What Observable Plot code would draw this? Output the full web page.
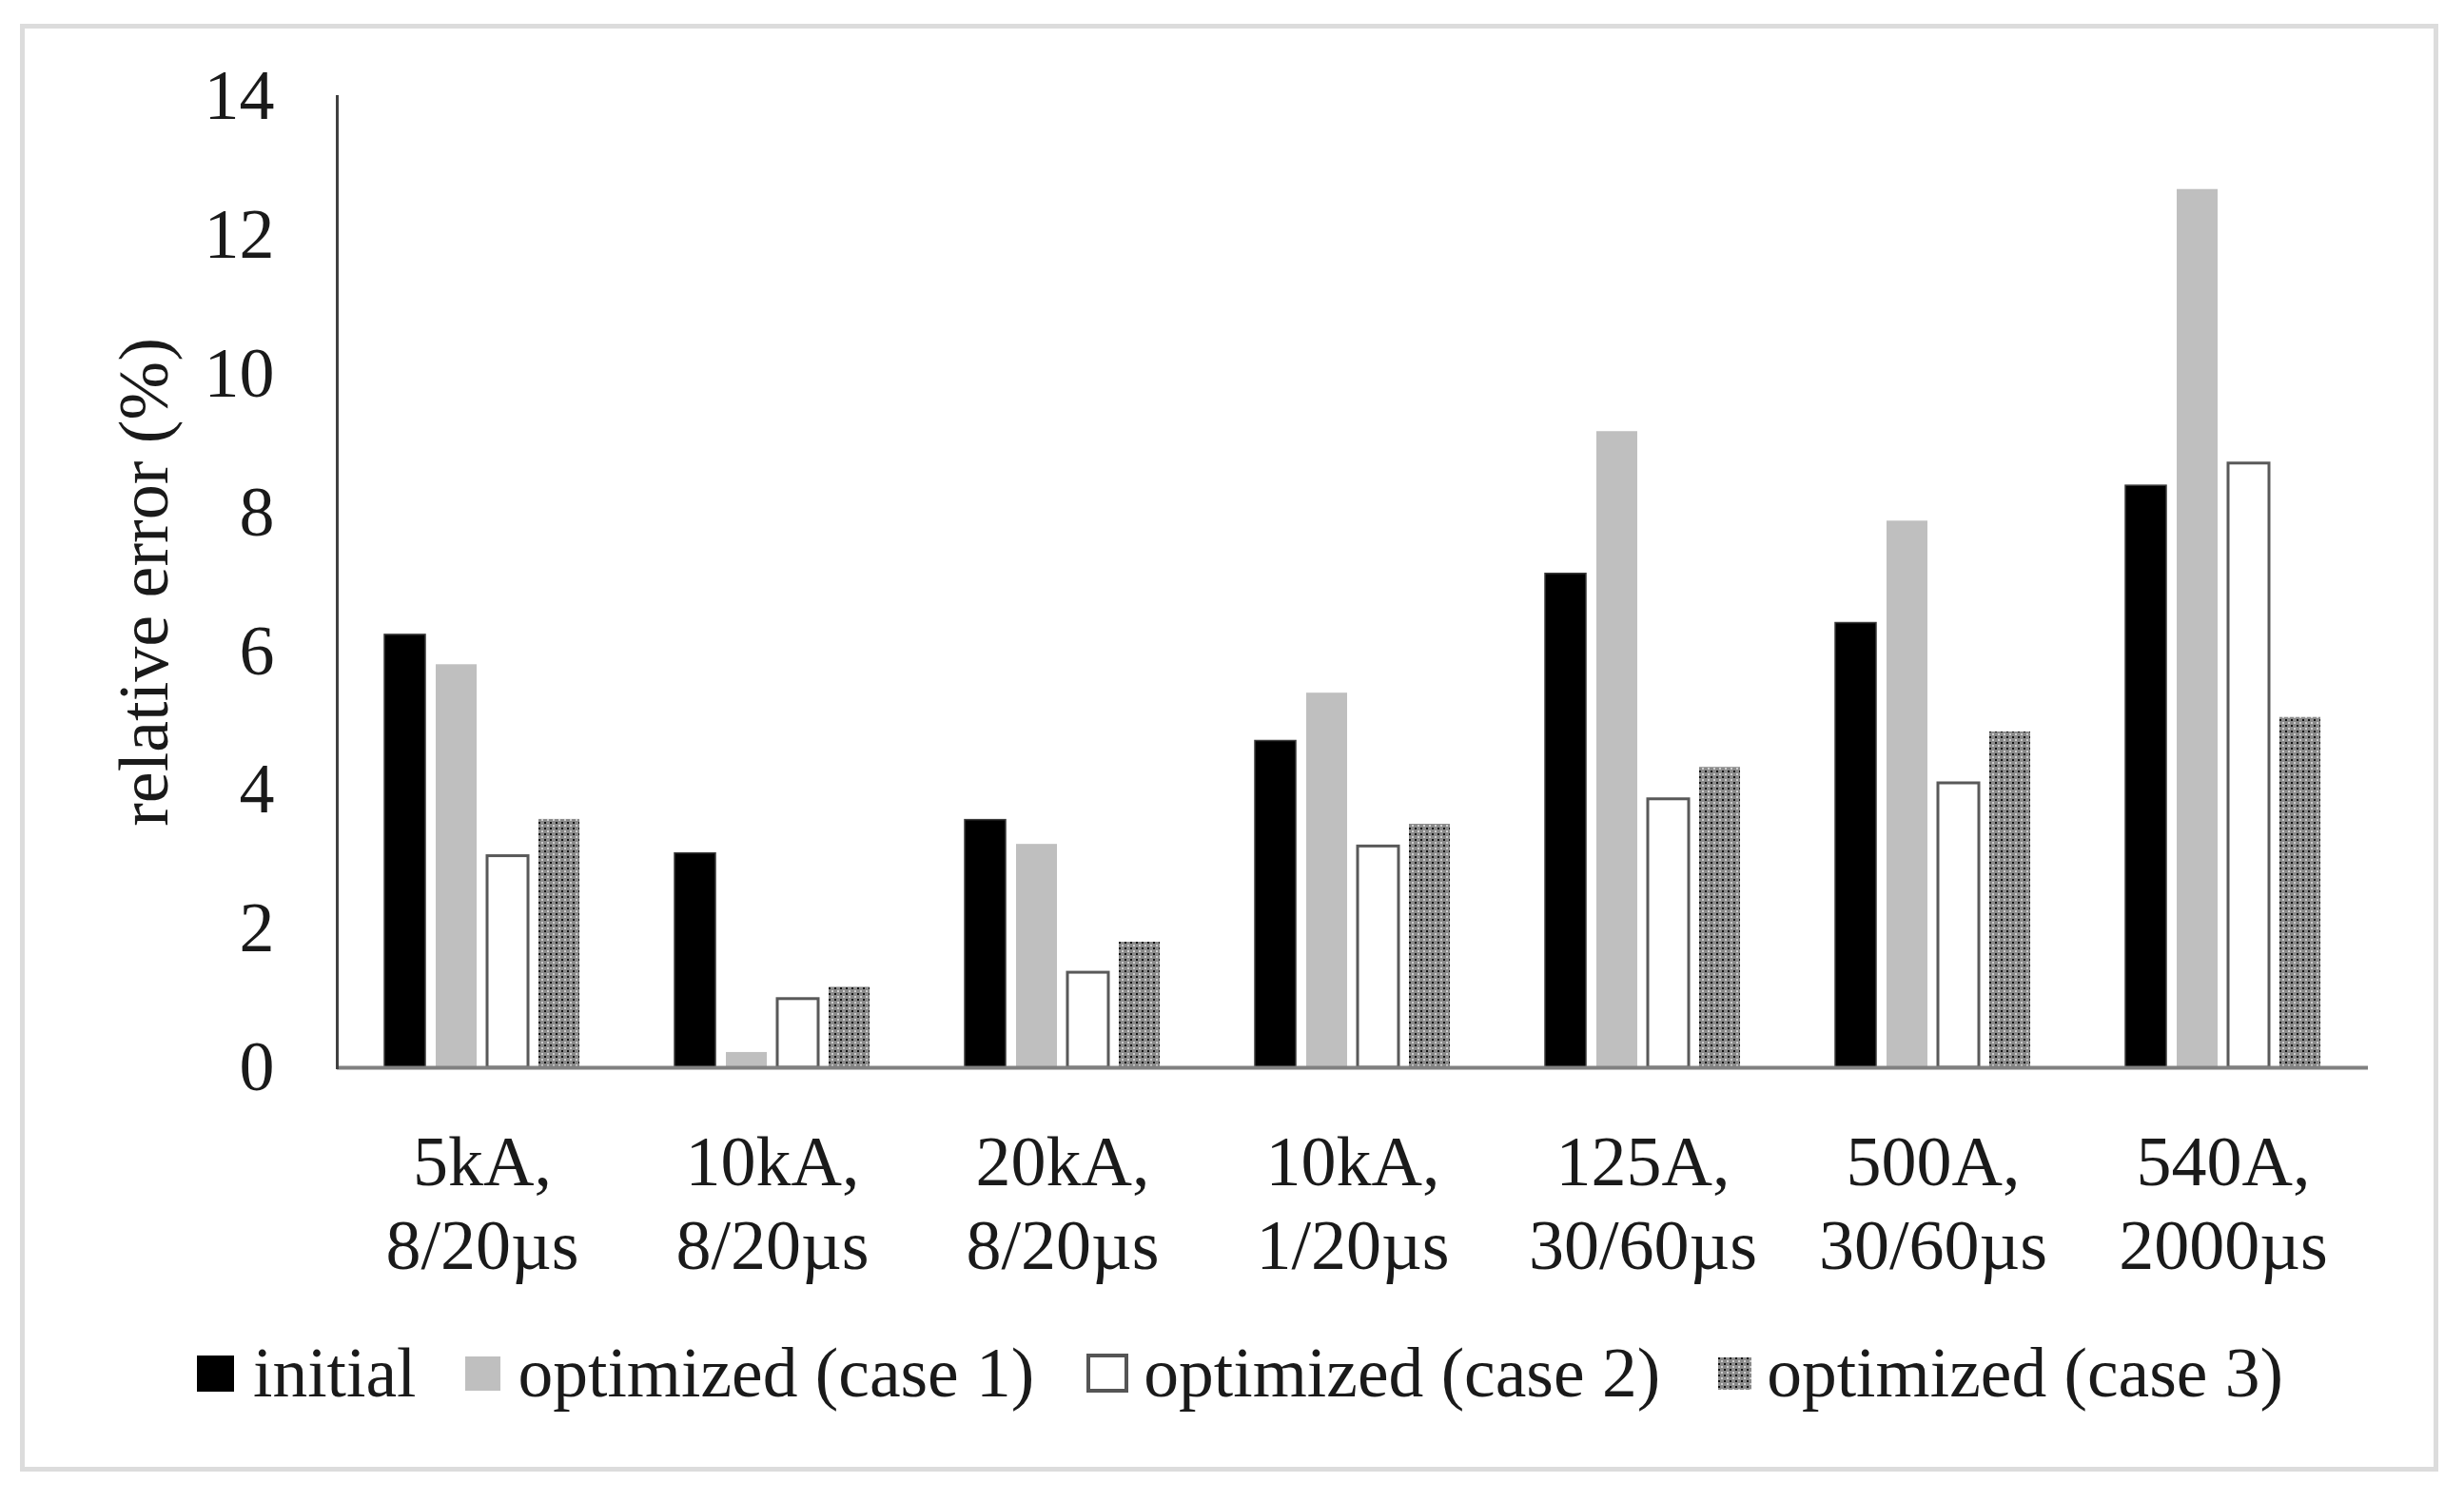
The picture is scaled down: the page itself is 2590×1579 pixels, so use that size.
<!DOCTYPE html>
<html>
<head>
<meta charset="utf-8">
<script src="https://cdn.jsdelivr.net/npm/d3@7"></script>
<script src="https://cdn.jsdelivr.net/npm/@observablehq/plot@0.6"></script>
<style>
  html, body { margin: 0; padding: 0; background: #fff; }
  #wrap { position: relative; width: 2590px; height: 1579px; font-family: "Liberation Serif", "Times New Roman", serif; color: #1a1a1a; overflow: hidden; }
  #border { position: absolute; left: 21px; top: 25px; width: 2542px; height: 1522px; box-sizing: border-box; border: 5px solid #dcdcdc; pointer-events: none; }
  #chart { position: absolute; left: 0; top: 0; }
  #legend { position: absolute; left: 207px; top: 1407px; display: flex; align-items: center; font-size: 73.5px; line-height: 1; white-space: nowrap; }
  #legend .item { display: flex; align-items: center; }
  #legend .swatch { display: block; box-sizing: border-box; }
</style>
</head>
<body>
<div id="wrap">
  <div id="chart"></div>
  <div id="legend"></div>
  <div id="border"></div>
</div>
<script>
// ---- data ----
const categories = [
  "5kA,\n8/20µs",
  "10kA,\n8/20µs",
  "20kA,\n8/20µs",
  "10kA,\n1/20µs",
  "125A,\n30/60µs",
  "500A,\n30/60µs",
  "540A,\n2000µs"
];
const series = ["initial", "optimized (case 1)", "optimized (case 2)", "optimized (case 3)"];
const initial = [6.24, 3.09, 3.57, 4.71, 7.12, 6.41, 8.39];
const case1   = [5.81, 0.22, 3.22, 5.40, 9.17, 7.88, 12.66];
const case2   = [3.05, 0.99, 1.37, 3.19, 3.87, 4.10, 8.71];
const case3   = [3.58, 1.16, 1.81, 3.51, 4.33, 4.84, 5.05];
const yTicks  = [0, 2, 4, 6, 8, 10, 12, 14];
const yLabel  = "relative error (%)";

// ---- build table ----
const valuesBySeries = [initial, case1, case2, case3];
const table = [];
series.forEach((s, i) => categories.forEach((c, j) => table.push({category: c, series: s, value: valuesBySeries[i][j]})));

// ---- styles ----
const looks = {
  "initial": {fill: "#000", stroke: "#3a3a3a", strokeWidth: 1.5},
  "optimized (case 1)": {fill: "#bfbfbf"},
  "optimized (case 2)": {fill: "#fff", stroke: "#595959", strokeWidth: 3},
  "optimized (case 3)": {fill: "url(#chk)"}
};
const fontFamily = '"Liberation Serif", "Times New Roman", serif';

const svg = Plot.plot({
  width: 2590,
  height: 1380,
  marginTop: 101,
  marginLeft: 352,
  marginRight: 100,
  marginBottom: 258,
  style: {fontFamily, fontSize: "74px", color: "#1a1a1a", background: "transparent", overflow: "visible"},
  fx: {domain: categories, paddingInner: 0, paddingOuter: 0},
  x: {domain: series, paddingInner: 0.2, paddingOuter: 0.88, axis: null},
  y: {domain: [0, 14]},
  marks: [
    ...series.map(s => Plot.barY(table.filter(d => d.series === s), {fx: "category", x: "series", y: "value", ...looks[s]})),
    Plot.ruleY([0], {stroke: "#808080", strokeWidth: 4}),
    Plot.frame({anchor: "left", facetAnchor: "left", stroke: "#404040", strokeWidth: 3}),
    Plot.axisY(yTicks, {tickSize: 0, tickPadding: 66, tickFormat: d3.format("d"), fontSize: 74, label: yLabel, labelAnchor: "center", labelOffset: 231, labelArrow: "none"}),
    Plot.axisFx({anchor: "bottom", tickSize: 0, tickPadding: 61, fontSize: 74, lineHeight: 1.19, label: null})
  ]
});

d3.select(svg).insert("defs", ":first-child").html(
  '<pattern id="chk" patternUnits="userSpaceOnUse" width="6" height="6">' +
  '<rect width="6" height="6" fill="#8a8a8a"/>' +
  '<rect width="2" height="2" fill="#111"/>' +
  '<rect x="3" y="3" width="2" height="2" fill="#cfcfcf"/>' +
  '</pattern>'
);
document.getElementById("chart").appendChild(svg);

// ---- legend ----
const legendLooks = [
  {w: 39, h: 38, bg: "#000", border: "none", gapBefore: 0, gapAfter: 20},
  {w: 37, h: 36, bg: "#bfbfbf", border: "none", gapBefore: 52, gapAfter: 18},
  {w: 44, h: 41, bg: "#fff", border: "4px solid #555", gapBefore: 55, gapAfter: 16},
  {w: 35, h: 34, bg: "pattern", border: "none", gapBefore: 61, gapAfter: 16}
];
const legend = d3.select("#legend");
series.forEach((s, i) => {
  const L = legendLooks[i];
  const item = legend.append("div").attr("class", "item").style("margin-left", L.gapBefore + "px");
  if (L.bg === "pattern") {
    item.append("svg").attr("width", L.w).attr("height", L.h).style("display", "block")
      .html('<defs><pattern id="chkL" patternUnits="userSpaceOnUse" width="6" height="6">' +
            '<rect width="6" height="6" fill="#8a8a8a"/><rect width="2" height="2" fill="#111"/>' +
            '<rect x="3" y="3" width="2" height="2" fill="#cfcfcf"/></pattern></defs>' +
            `<rect width="${L.w}" height="${L.h}" fill="url(#chkL)"/>`);
  } else {
    item.append("span").attr("class", "swatch")
      .style("width", L.w + "px").style("height", L.h + "px")
      .style("background", L.bg).style("border", L.border);
  }
  item.append("span").style("margin-left", L.gapAfter + "px").text(s);
});
</script>
</body>
</html>
